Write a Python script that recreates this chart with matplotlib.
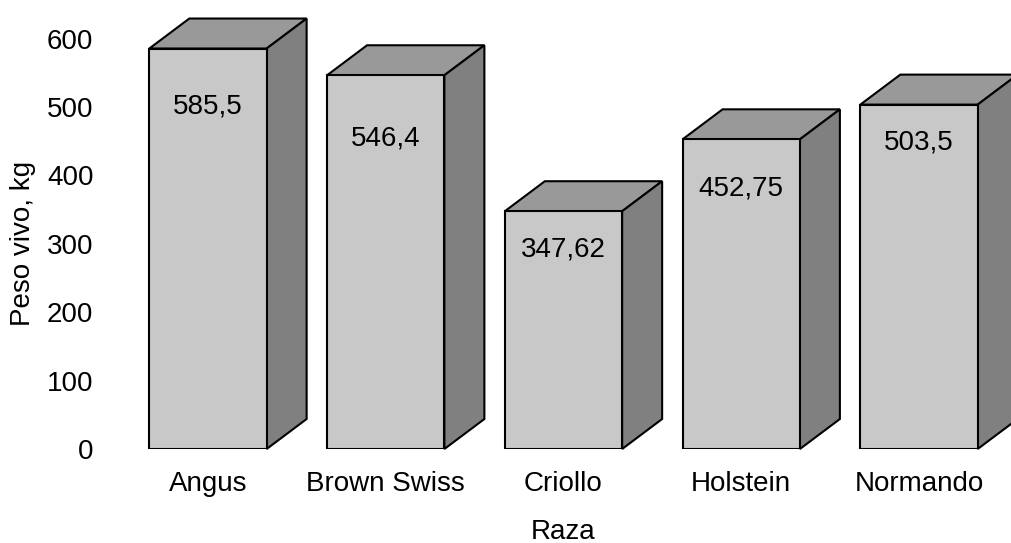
import matplotlib.pyplot as plt
import numpy as np
from matplotlib.patches import Polygon

plt.rcParams['font.family'] = ['Liberation Sans', 'DejaVu Sans']

# Data
razas = ['Angus', 'Brown Swiss', 'Criollo', 'Holstein', 'Normando']
peso = [585.5, 546.4, 347.62, 452.75, 503.5]
etiquetas = ['585,5', '546,4', '347,62', '452,75', '503,5']

# how far below the bar top each value label sits (pixels)
label_drop = [58, 63, 38, 49, 38]

front_col = '#c8c8c8'
top_col = '#999999'
side_col = '#808080'
depth_px = (40, 30)  # 3D offset of the back face
fs = 20

fig = plt.figure(figsize=(10.11, 5.43), dpi=100)
ax = fig.add_axes([0.1178, 0.1731, 0.8791, 0.7558])
ax.set_xlim(-0.5, 4.5)
ax.set_ylim(0, 600)

x = np.arange(len(razas))
width = 0.66
bars = ax.bar(x, peso, width=width, color=front_col, edgecolor='black',
              linewidth=1.5, zorder=3)

# draw the top and side faces with a fixed pixel offset
fig.canvas.draw()
to_disp = ax.transData
to_data = ax.transData.inverted()

def shift(px, py):
    d = to_disp.transform((px, py))
    return to_data.transform((d[0] + depth_px[0], d[1] + depth_px[1]))

for xi, h in zip(x, peso):
    l, r = xi - width / 2, xi + width / 2
    top = [(l, h), (r, h), tuple(shift(r, h)), tuple(shift(l, h))]
    side = [(r, 0), (r, h), tuple(shift(r, h)), tuple(shift(r, 0))]
    ax.add_patch(Polygon(top, closed=True, facecolor=top_col, edgecolor='black',
                         linewidth=1.5, zorder=2, clip_on=False))
    ax.add_patch(Polygon(side, closed=True, facecolor=side_col, edgecolor='black',
                         linewidth=1.5, zorder=2, clip_on=False))

for xi, h, txt, drop in zip(x, peso, etiquetas, label_drop):
    ax.annotate(txt, xy=(xi, h), xytext=(0, -drop * 0.72), textcoords='offset points',
                ha='center', va='center', fontsize=fs, zorder=5)

ax.set_xticks(x)
ax.set_xticklabels(razas, fontsize=fs)
ax.set_yticks(np.arange(0, 601, 100))
ax.tick_params(axis='y', length=0, pad=18.5, labelsize=fs)
ax.tick_params(axis='x', length=0, pad=15.5, labelsize=fs)
for s in ax.spines.values():
    s.set_visible(False)

ax.set_xlabel('Raza', fontsize=fs, labelpad=16)
ax.set_ylabel('Peso vivo, kg', fontsize=fs, labelpad=8)

fig.savefig('out.png', dpi=100)
